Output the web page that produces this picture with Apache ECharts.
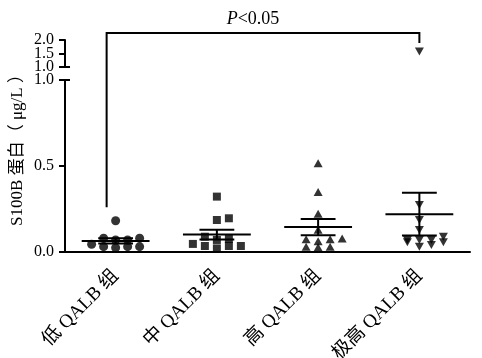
<!DOCTYPE html>
<html><head><meta charset="utf-8">
<script src="https://cdn.jsdelivr.net/npm/echarts@6/dist/echarts.min.js"></script>
<style>html,body{margin:0;padding:0;background:#fff}#c{width:482px;height:358px}</style>
</head><body><div id="c"></div>
<script>
// ---- data ----
const categories = ['低 QALB 组', '中 QALB 组', '高 QALB 组', '极高 QALB 组'];
const lowValues = [0.045, 0.080, 0.031, 0.070, 0.025, 0.080, 0.031, 0.070, 0.031, 0.182];
const midValues = [0.047, 0.035, 0.076, 0.089, 0.021, 0.070, 0.035, 0.035, 0.186, 0.196, 0.322];
const highValues = [0.516, 0.349, 0.223, 0.130, 0.074, 0.078, 0.074, 0.062, 0.031, 0.027, 0.031];
const veryHighValues = [1.57, 0.273, 0.186, 0.128, 0.070, 0.056, 0.070, 0.070, 0.089, 0.056, 0.031, 0.041];
const lowerAxisRange = [0, 1.0];   // ticks 0.0, 0.5, 1.0
const upperAxisRange = [1.0, 2.0]; // ticks 1.0, 1.5, 2.0
const upperTickLabels = [1.0, 1.5, 2.0];
const tickStep = 0.5;
const pLabel = 'P<0.05';
const yTitle = 'S100B 蛋白（ μg/L ）';
// significance bracket: from group 0 to group 3; leg ends (left on lower scale, right on upper scale), top on upper scale
const bracket = { from: 0, to: 3, leftEnd: 0.26, rightEnd: 1.89, top: 2.26 };

const groups = [lowValues, midValues, highValues, veryHighValues];
const FONT = '"Liberation Serif","Noto Sans CJK SC",serif';
const symbols = ['circle', 'rect', 'triangle', 'triangle'];
const symbolSizes = [9, 8, [9, 8], [9, 8]];
const symbolRotates = [0, 0, 0, 180];

function stats(arr) {
  const n = arr.length;
  const m = arr.reduce((a, b) => a + b, 0) / n;
  const sd = Math.sqrt(arr.reduce((a, b) => a + (b - m) * (b - m), 0) / (n - 1));
  return { mean: m, sem: sd / Math.sqrt(n) };
}
const groupStats = groups.map(stats);

const chart = echarts.init(document.getElementById('c'));

const LABEL_MARGIN = 11;
const axisLabelStyle = { color: '#000', fontFamily: FONT, fontSize: 16, margin: LABEL_MARGIN, formatter: v => v.toFixed(1) };

function buildSeries(offsets) {
  const series = [];
  groups.forEach((arr, gi) => {
    const lower = [], upper = [];
    arr.forEach((v, i) => {
      const item = { value: [gi, v], symbolOffset: [offsets ? offsets[gi][i] : 0, 0] };
      (v > lowerAxisRange[1] ? upper : lower).push(item);
    });
    const common = {
      type: 'scatter', symbol: symbols[gi], symbolSize: symbolSizes[gi], symbolRotate: symbolRotates[gi],
      itemStyle: { color: '#000' }, silent: true, z: 2
    };
    series.push(Object.assign({}, common, { xAxisIndex: 1, yAxisIndex: 1, data: lower }));
    series.push(Object.assign({}, common, { xAxisIndex: 0, yAxisIndex: 0, data: upper }));
  });
  series.push({
    type: 'custom', xAxisIndex: 1, yAxisIndex: 1, z: 3, silent: true,
    data: groupStats.map((s, i) => [i, s.mean, s.sem]),
    renderItem(params, api) {
      const c = api.value(0), m = api.value(1), e = api.value(2);
      const pm = api.coord([c, m]), pu = api.coord([c, m + e]), pl = api.coord([c, m - e]);
      const bw = api.size([1, 0])[0];
      const st = { stroke: '#000', lineWidth: 2 };
      const hw = bw * 0.335, cw = bw * 0.172;
      return { type: 'group', children: [
        { type: 'line', shape: { x1: pm[0] - hw, y1: pm[1], x2: pm[0] + hw, y2: pm[1] }, style: st },
        { type: 'line', shape: { x1: pu[0] - cw, y1: pu[1], x2: pu[0] + cw, y2: pu[1] }, style: st },
        { type: 'line', shape: { x1: pl[0] - cw, y1: pl[1], x2: pl[0] + cw, y2: pl[1] }, style: st },
        { type: 'line', shape: { x1: pu[0], y1: pu[1], x2: pl[0], y2: pl[1] }, style: st }
      ] };
    }
  });
  return series;
}

const option = {
  animation: false,
  backgroundColor: '#fff',
  grid: [
    { left: 65, right: 12, top: 40, height: 27, outerBoundsMode: 'none', containLabel: false },
    { left: 65, right: 12, top: 80, height: 172, outerBoundsMode: 'none', containLabel: false }
  ],
  xAxis: [
    { type: 'category', gridIndex: 0, data: categories, show: false },
    { type: 'category', gridIndex: 1, data: categories,
      axisLine: { lineStyle: { color: '#000', width: 2 } },
      axisTick: { alignWithLabel: true, length: 7, lineStyle: { color: '#000', width: 2 } },
      axisLabel: { color: '#000', fontFamily: FONT, fontSize: 19, rotate: 45, margin: 21, interval: 0 } }
  ],
  yAxis: [
    { type: 'value', gridIndex: 0, min: upperAxisRange[0], max: upperAxisRange[1], interval: tickStep,
      axisLine: { show: true, lineStyle: { color: '#000', width: 2 } },
      axisTick: { show: true, length: 6, lineStyle: { color: '#000', width: 2 } },
      splitLine: { show: false }, axisLabel: { show: false } },
    { type: 'value', gridIndex: 1, min: lowerAxisRange[0], max: lowerAxisRange[1], interval: tickStep,
      axisLine: { show: true, lineStyle: { color: '#000', width: 2 } },
      axisTick: { show: true, length: 6, lineStyle: { color: '#000', width: 2 } },
      splitLine: { show: false }, axisLabel: axisLabelStyle }
  ],
  series: buildSeries(null)
};
chart.setOption(option);

// ---- Prism-like row layout of the dots (computed) ----
const SPACING = 12, ROW_H = 6;
function rowOffsets(arr, gi, yAxisIndex, filter) {
  const idx = arr.map((v, i) => i).filter(i => filter(arr[i]));
  const py = i => chart.convertToPixel({ xAxisIndex: yAxisIndex, yAxisIndex: yAxisIndex }, [gi, arr[i]])[1];
  idx.sort((a, b) => arr[a] - arr[b]);
  const res = {};
  let row = [];
  const flush = () => {
    row.forEach((i, k) => {
      const step = Math.ceil(k / 2);
      res[i] = (k === 0 ? 0 : (k % 2 === 1 ? step : -step)) * SPACING;
    });
    row = [];
  };
  idx.forEach(i => {
    if (row.length && Math.abs(py(i) - py(row[0])) > ROW_H) flush();
    row.push(i);
  });
  flush();
  return res;
}
const offsets = groups.map((arr, gi) => {
  const a = rowOffsets(arr, gi, 1, v => v <= lowerAxisRange[1]);
  const b = rowOffsets(arr, gi, 0, v => v > lowerAxisRange[1]);
  return arr.map((v, i) => (i in a ? a[i] : b[i]));
});

// ---- annotation graphics ----
const gridLeft = chart.convertToPixel({ xAxisIndex: 1, yAxisIndex: 1 }, [0, 0])[0] - 
  (chart.convertToPixel({ xAxisIndex: 1, yAxisIndex: 1 }, [1, 0])[0] - chart.convertToPixel({ xAxisIndex: 1, yAxisIndex: 1 }, [0, 0])[0]) / 2;
const yUp1 = chart.convertToPixel({ xAxisIndex: 0, yAxisIndex: 0 }, [0, upperAxisRange[0]])[1];
const yLo1 = chart.convertToPixel({ xAxisIndex: 1, yAxisIndex: 1 }, [0, lowerAxisRange[1]])[1];
const bxL = chart.convertToPixel({ xAxisIndex: 1, yAxisIndex: 1 }, [bracket.from, bracket.leftEnd]);
const bxR = chart.convertToPixel({ xAxisIndex: 0, yAxisIndex: 0 }, [bracket.to, bracket.rightEnd]);
const bTop = chart.convertToPixel({ xAxisIndex: 0, yAxisIndex: 0 }, [bracket.to, bracket.top])[1];
const leftX = bxL[0] - 9;
const lineSt = { stroke: '#000', lineWidth: 2, fill: null };

const upperLabelGraphics = upperTickLabels.map(v => ({
  type: 'text', x: gridLeft - LABEL_MARGIN,
  y: chart.convertToPixel({ xAxisIndex: 0, yAxisIndex: 0 }, [0, v])[1],
  style: { text: v.toFixed(1), align: 'right', verticalAlign: 'middle', fontFamily: FONT, fontSize: 16, fill: '#000' }
}));

chart.setOption({
  series: buildSeries(offsets),
  graphic: [
    { type: 'line', shape: { x1: gridLeft, y1: yUp1, x2: gridLeft + 5, y2: yUp1 }, style: lineSt },
    { type: 'line', shape: { x1: gridLeft, y1: yLo1, x2: gridLeft + 5, y2: yLo1 }, style: lineSt },
    { type: 'polyline', shape: { points: [[leftX, bxL[1]], [leftX, bTop], [bxR[0], bTop], [bxR[0], bxR[1]]] }, style: lineSt },
    { type: 'text', x: (leftX + bxR[0]) / 2 - 10, y: bTop - 5,
      style: { text: '{i|P}{n|' + pLabel.slice(1) + '}', align: 'center', verticalAlign: 'bottom',
        rich: { i: { fontFamily: FONT, fontSize: 18, fontStyle: 'italic', fill: '#000' },
                n: { fontFamily: FONT, fontSize: 18, fill: '#000' } } } },
    { type: 'text', x: 18, y: 146, rotation: Math.PI / 2,
      style: { text: yTitle, align: 'center', verticalAlign: 'middle', fontFamily: FONT, fontSize: 17, fill: '#000' } }
  ].concat(upperLabelGraphics)
});
</script></body></html>
